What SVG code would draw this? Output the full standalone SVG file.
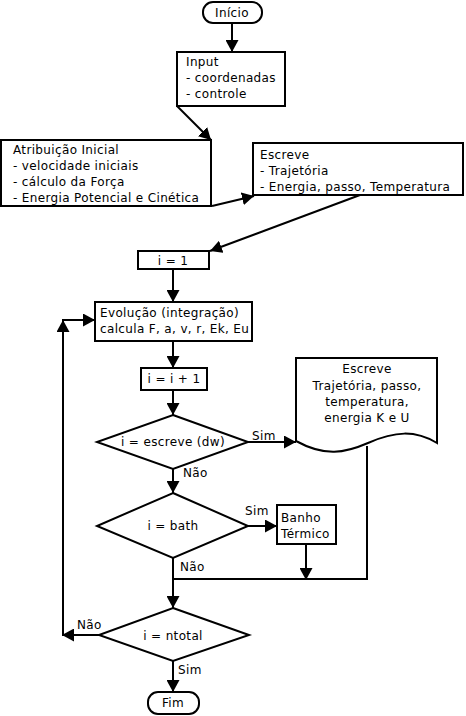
<svg xmlns="http://www.w3.org/2000/svg" width="466" height="716" viewBox="0 0 466 716">
<style>
.s{fill:#fff;stroke:#000;stroke-width:2}
.c{fill:none;stroke:#000;stroke-width:2}
text{font-family:"DejaVu Sans",sans-serif;font-size:12px;letter-spacing:0.35px;fill:#000}
.m{text-anchor:middle}
</style>
<defs>
<marker id="ah" markerWidth="13" markerHeight="13" refX="12" refY="6.5" orient="auto" markerUnits="userSpaceOnUse"><path d="M0,0 L12,6.5 L0,13 z" fill="#000"/></marker>
</defs>
<rect width="466" height="716" fill="#fff"/>
<g id="connectors">
<path class="c" d="M232,23 L232,52" marker-end="url(#ah)"/>
<path class="c" d="M177,106 L211,140" marker-end="url(#ah)"/>
<path class="c" d="M212,206 L254,196" marker-end="url(#ah)"/>
<path class="c" d="M360,195 L210,251" marker-end="url(#ah)"/>
<path class="c" d="M173,269 L173,302" marker-end="url(#ah)"/>
<path class="c" d="M173,341 L173,368" marker-end="url(#ah)"/>
<path class="c" d="M173,390 L173,415" marker-end="url(#ah)"/>
<path class="c" d="M173,469 L173,493" marker-end="url(#ah)"/>
<path class="c" d="M248,442 L296,442" marker-end="url(#ah)"/>
<path class="c" d="M248,526 L277,526" marker-end="url(#ah)"/>
<path class="c" d="M306,544 L306,580" marker-end="url(#ah)"/>
<path class="c" d="M367,446 L367,579 L173,579"/>
<path class="c" d="M173,558 L173,608" marker-end="url(#ah)"/>
<path class="c" d="M99,635 L62,635" marker-end="url(#ah)"/>
<path class="c" d="M63,636 L63,320" marker-end="url(#ah)"/>
<path class="c" d="M62,320 L95,320" marker-end="url(#ah)"/>
<path class="c" d="M173,661 L173,692" marker-end="url(#ah)"/>
<text x="252" y="440">Sim</text>
<text x="183" y="477">Não</text>
<text x="245" y="515">Sim</text>
<text x="180" y="571">Não</text>
<text x="77" y="629">Não</text>
<text x="178" y="674">Sim</text>
</g>
<g id="inicio"><rect class="s" x="203" y="2" width="59" height="21" rx="10"/><text class="m" x="232" y="17">Início</text></g>
<g id="input"><rect class="s" x="177" y="52" width="108" height="54"/><text x="186" y="66">Input</text><text x="186" y="82">- coordenadas</text><text x="186" y="98">- controle</text></g>
<g id="atribuicao"><rect class="s" x="1" y="140" width="210" height="66"/><text x="13" y="154">Atribuição Inicial</text><text x="13" y="170">- velocidade iniciais</text><text x="13" y="186">- cálculo da Força</text><text x="13" y="202">- Energia Potencial e Cinética</text></g>
<g id="escreve1"><rect class="s" x="253" y="143" width="210" height="52"/><text x="260" y="159">Escreve</text><text x="260" y="175">- Trajetória</text><text x="260" y="191">- Energia, passo, Temperatura</text></g>
<g id="i1"><rect class="s" x="138" y="251" width="71" height="18"/><text class="m" x="173" y="265">i = 1</text></g>
<g id="evolucao"><rect class="s" x="95" y="302" width="157" height="39"/><text x="100" y="317">Evolução (integração)</text><text x="100" y="333">calcula F, a, v, r, Ek, Eu</text></g>
<g id="inc"><rect class="s" x="141" y="368" width="66" height="22"/><text class="m" x="174" y="383">i = i + 1</text></g>
<g id="dec1"><path class="s" d="M173,415 L248,442 L173,469 L97,442 Z"/><text class="m" x="173" y="446">i = escreve (dw)</text></g>
<g id="escreve2"><path class="s" d="M296,358 L437,358 L437,443 C415,430 395,431 368,443 C345,453 325,457 296,441 Z"/><text class="m" x="367" y="373">Escreve</text><text class="m" x="367" y="390">Trajetória, passo,</text><text class="m" x="367" y="406">temperatura,</text><text class="m" x="367" y="422">energia K e U</text></g>
<g id="dec2"><path class="s" d="M173,493 L248,526 L173,558 L97,526 Z"/><text class="m" x="173" y="530">i = bath</text></g>
<g id="banho"><rect class="s" x="277" y="505" width="59" height="39"/><text x="281" y="522">Banho</text><text x="281" y="538">Térmico</text></g>
<g id="dec3"><path class="s" d="M173,608 L249,635 L173,661 L99,635 Z"/><text class="m" x="173" y="640">i = ntotal</text></g>
<g id="fim"><rect class="s" x="148" y="692" width="51" height="22" rx="10"/><text class="m" x="173" y="707">Fim</text></g>
</svg>
